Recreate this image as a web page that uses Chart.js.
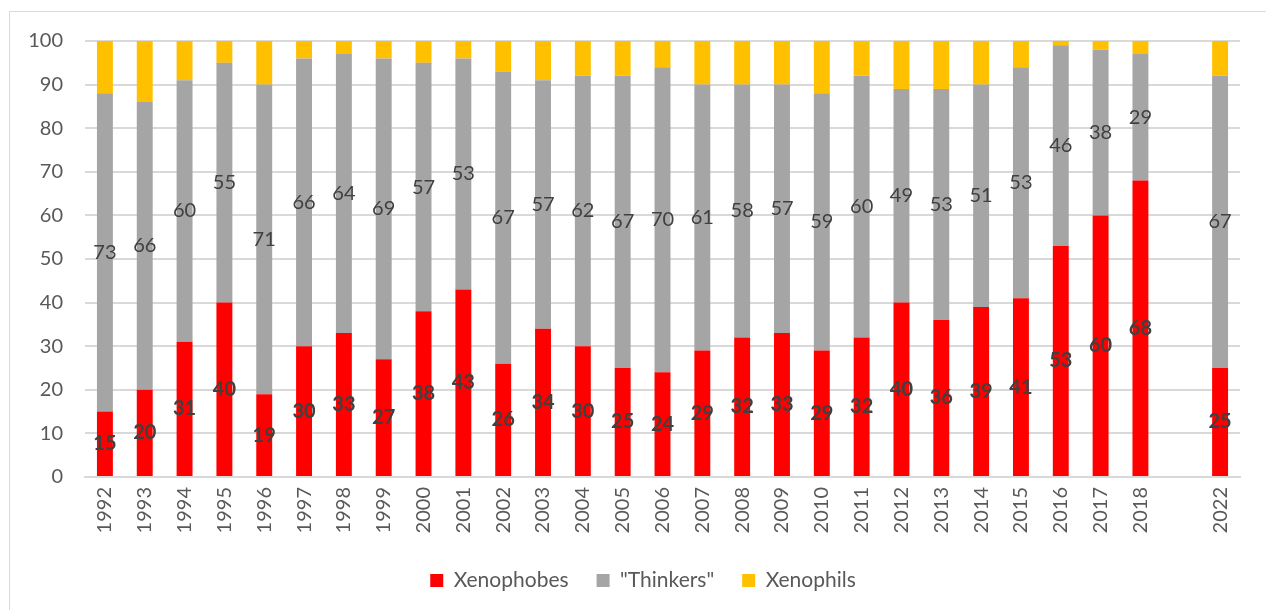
<!DOCTYPE html>
<html>
<head>
<meta charset="utf-8">
<script src="https://cdn.jsdelivr.net/npm/chart.js@4.4.1/dist/chart.umd.min.js"></script>
<style>
  html, body { margin: 0; padding: 0; background: #fff; }
  #box {
    position: absolute; left: 9px; top: 11px;
    width: 1270px; height: 610px;
    border: 1px solid #d9d9d9; box-sizing: border-box;
  }
  #chart { position: absolute; left: 0; top: 0; }
</style>
</head>
<body>
<div id="box"><canvas id="chart" width="1257" height="599"></canvas></div>
<script>
// survey years (blank slot = years with no survey)
const years = ["1992","1993","1994","1995","1996","1997","1998","1999","2000",
  "2001","2002","2003","2004","2005","2006","2007","2008","2009","2010",
  "2011","2012","2013","2014","2015","2016","2017","2018","","2022"];

const xenophobes = [15,20,31,40,19,30,33,27,38,43,26,34,30,25,24,29,32,33,29,
  32,40,36,39,41,53,60,68,null,25];
const thinkers = [73,66,60,55,71,66,64,69,57,53,67,57,62,67,70,61,58,57,59,
  60,49,53,51,53,46,38,29,null,67];
const xenophils = [12,14,9,5,10,4,3,4,5,4,7,9,8,8,6,10,10,10,12,
  8,11,11,10,6,1,2,3,null,8];

const yTicks = [0,10,20,30,40,50,60,70,80,90,100];

const FONT = "Lato, 'Open Sans', sans-serif";

// value labels in the middle of each segment
const segLabels = {
  id: "segLabels",
  afterDatasetsDraw(chart) {
    const ctx = chart.ctx;
    ctx.save();
    ctx.textAlign = "center";
    ctx.textBaseline = "middle";
    ctx.fillStyle = "#404040";
    [0, 1].forEach(di => {
      const meta = chart.getDatasetMeta(di);
      const data = chart.data.datasets[di].data;
      ctx.font = (di === 0 ? "bold " : "") + "20px " + FONT;
      meta.data.forEach((el, i) => {
        if (data[i] == null) return;
        ctx.fillText(String(data[i]), el.x, (el.y + el.base) / 2);
      });
    });
    ctx.restore();
  }
};

// nudge the legend a bit right, it sits under the plot in the original
const legendShift = {
  id: "legendShift",
  afterLayout(chart) {
    chart.legend.left += 13;
    chart.legend.right += 13;
  }
};

new Chart(document.getElementById("chart"), {
  type: "bar",
  data: {
    labels: years,
    datasets: [
      { label: "Xenophobes", data: xenophobes, backgroundColor: "#ff0000" },
      { label: "\"Thinkers\"", data: thinkers, backgroundColor: "#a5a5a5" },
      { label: "Xenophils", data: xenophils, backgroundColor: "#ffc000" }
    ]
  },
  options: {
    responsive: false,
    animation: false,
    layout: { padding: { left: 10, right: 27, top: 29, bottom: 10 } },
    datasets: { bar: { categoryPercentage: 1, barPercentage: 0.4 } },
    plugins: {
      legend: {
        position: "bottom",
        labels: {
          boxWidth: 13, boxHeight: 13, padding: 28,
          color: "#595959", font: { family: FONT, size: 21 }
        }
      },
      tooltip: { enabled: false }
    },
    scales: {
      x: {
        stacked: true,
        grid: { display: false, drawTicks: false },
        border: { color: "#d9d9d9", width: 2 },
        ticks: {
          color: "#595959", font: { family: FONT, size: 20 },
          minRotation: 90, maxRotation: 90, autoSkip: false, padding: 10
        },
        afterFit(s) { s.height = 65; s.paddingLeft = 0; s.paddingRight = 0; }
      },
      y: {
        stacked: true,
        min: 0, max: 100,
        afterBuildTicks(s) { s.ticks = yTicks.map(v => ({ value: v })); },
        grid: { color: "#d9d9d9", lineWidth: 2, drawTicks: false },
        border: { display: false },
        ticks: {
          color: "#595959", font: { family: FONT, size: 20 }, padding: 22
        },
        afterFit(s) { s.width = 65; s.paddingTop = 0; s.paddingBottom = 0; }
      }
    }
  },
  plugins: [segLabels, legendShift]
});
</script>
</body>
</html>
